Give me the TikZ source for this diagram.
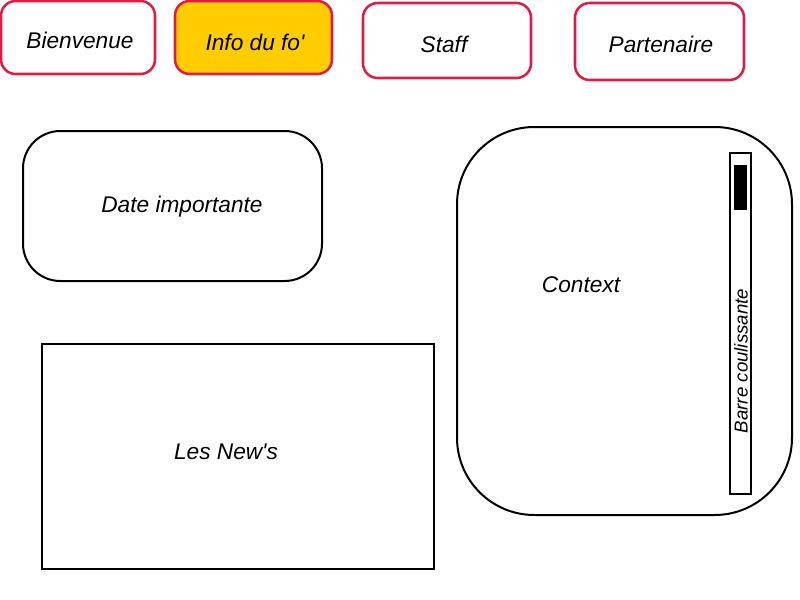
\documentclass[tikz,border=0pt]{standalone}
\usepackage{fontspec}
\setmainfont{Liberation Sans}[Ligatures=TeXOff]
\usetikzlibrary{positioning}
\definecolor{tabred}{HTML}{DC1E46}
\definecolor{tabgold}{HTML}{FFCC00}

\begin{document}
\begin{tikzpicture}[x=0.75pt, y=-0.75pt,
  tab/.style={draw=tabred, line width=1.9pt, rounded corners=11pt,
              fill=white, inner sep=0pt},
  zone/.style={draw=black, line width=1.5pt, fill=white, inner sep=0pt},
  txt/.style={font=\itshape\fontsize{17}{20}\selectfont, inner sep=0pt},
]
\useasboundingbox (0,0) rectangle (800,600);

% Top row: menu tabs
\node[tab, minimum width=115.5pt, minimum height=54.75pt] (bienvenue) at (78, 37.5) {};
\node[tab, fill=tabgold, minimum width=117.75pt, minimum height=54.75pt] (info) at (253.5, 37.5) {};
\node[tab, minimum width=126pt, minimum height=56.25pt] (staff) at (447, 40.5) {};
\node[tab, minimum width=126.75pt, minimum height=57.75pt] (partenaire) at (659.5, 41.5) {};

\node[txt] (bienvenuetxt) at (80, 40) {Bienvenue};
\node[txt] (infotxt) at (255, 42) {Info du fo'};
\node[txt] (stafftxt) at (444, 44) {Staff};
\node[txt] (partenairetxt) at (661, 44) {Partenaire};

% Left column
\node[zone, rounded corners=28pt, minimum width=224.25pt, minimum height=112.5pt] (dates) at (172.5, 206) {};
\node[txt] (datestxt) at (182, 207) {Date importante};

\node[zone, minimum width=294pt, minimum height=168.75pt] (news) at (238, 456.5) {};
\node[txt] (newstxt) at (226, 452) {Les New's};

% Right: context with scroll bar
\node[zone, rounded corners=58pt, minimum width=251.25pt, minimum height=291pt] (context) at (624.5, 321) {};
\node[txt] (contexttxt) at (581, 285) {Context};

\node[zone, line width=1.2pt, minimum width=15.75pt, minimum height=255.75pt] (barre) at (740.5, 323.5) {};
\node[fill=black, inner sep=0pt, minimum width=9.75pt, minimum height=33.75pt] (curseur) at (740.5, 187.5) {};
\node[txt, font=\itshape\fontsize{14}{16}\selectfont, rotate=90] (barretxt) at (741, 361) {Barre coulissante};

\end{tikzpicture}
\end{document}
